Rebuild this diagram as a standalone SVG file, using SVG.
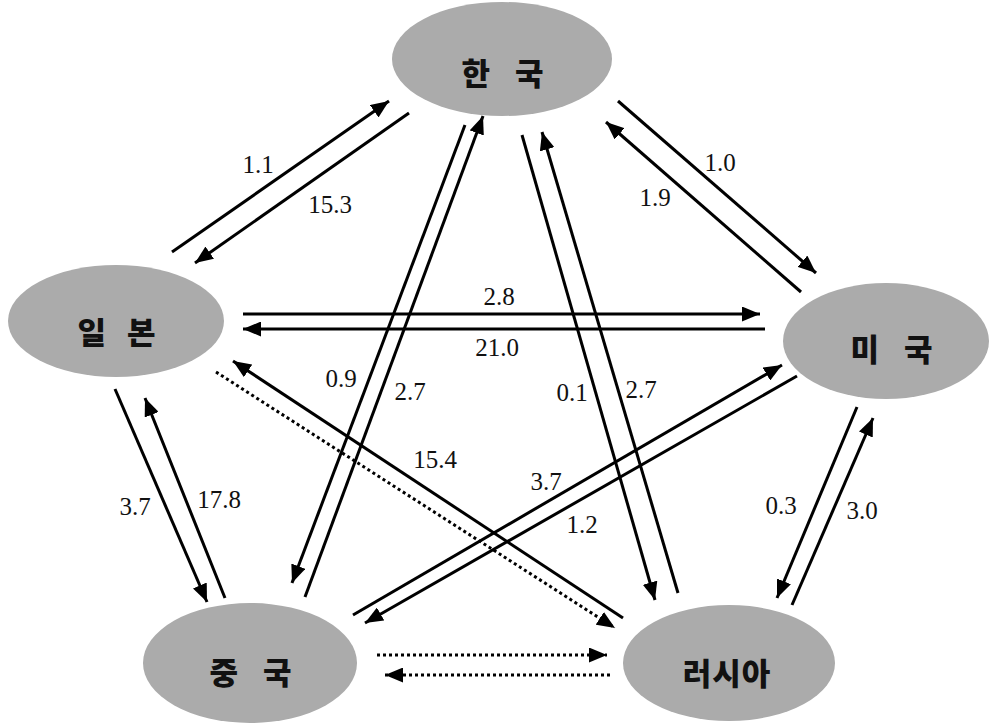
<svg xmlns="http://www.w3.org/2000/svg" width="989" height="724" viewBox="0 0 989 724">
<style>
.node{fill:#ababab;}
.nt{font-family:"Noto Sans CJK KR","Noto Sans",sans-serif;font-weight:900;font-size:31px;fill:#111;text-anchor:middle;}
.lbl{font-family:"Liberation Serif",serif;font-size:25px;fill:#111;text-anchor:middle;}
.c{stroke:#000;stroke-width:3;fill:none;}
.a{marker-end:url(#ah);}
.d{stroke-dasharray:3 3;}
</style>
<defs>
<marker id="ah" viewBox="0 0 18 15" refX="18" refY="7.5" markerWidth="18" markerHeight="15" markerUnits="userSpaceOnUse" orient="auto">
<path d="M0,0 L18,7.5 L0,15 z" fill="#000"/>
</marker>
</defs>
<rect width="989" height="724" fill="#fff"/>
<g id="korea"><ellipse class="node" cx="502" cy="59" rx="110" ry="57"/><text class="nt" x="507" y="85" style="letter-spacing:9px">한 국</text></g>
<g id="japan"><ellipse class="node" cx="116" cy="321" rx="108" ry="56"/><text class="nt" x="120" y="344" style="letter-spacing:7px">일 본</text></g>
<g id="usa"><ellipse class="node" cx="886" cy="341" rx="103" ry="58"/><text class="nt" x="896" y="361" style="letter-spacing:9px">미 국</text></g>
<g id="china"><ellipse class="node" cx="250" cy="663" rx="107" ry="60"/><text class="nt" x="255" y="684" style="letter-spacing:9px">중 국</text></g>
<g id="russia"><ellipse class="node" cx="729" cy="663" rx="106" ry="58"/><text class="nt" x="727" y="685" style="letter-spacing:1px">러시아</text></g>
<g id="connectors">
<line class="c a" x1="172" y1="252" x2="389" y2="101"/>
<line class="c a" x1="409" y1="113" x2="195" y2="263"/>
<line class="c a" x1="618" y1="101" x2="816" y2="273"/>
<line class="c a" x1="801" y1="292" x2="606" y2="122"/>
<line class="c a" x1="243" y1="314" x2="760" y2="314"/>
<line class="c a" x1="765" y1="329" x2="243" y2="329"/>
<line class="c a" x1="465" y1="125" x2="292" y2="583"/>
<line class="c a" x1="305" y1="597" x2="483" y2="116"/>
<line class="c a" x1="522" y1="135" x2="655" y2="600"/>
<line class="c a" x1="678" y1="593" x2="542" y2="132"/>
<line class="c a" x1="353" y1="615" x2="782" y2="365"/>
<line class="c a" x1="797" y1="376" x2="365" y2="623"/>
<line class="c a" x1="623" y1="618" x2="233" y2="361"/>
<line class="c a d" x1="216" y1="372" x2="615" y2="628"/>
<line class="c a" x1="115" y1="389" x2="207" y2="602"/>
<line class="c a" x1="225" y1="598" x2="145" y2="398"/>
<line class="c a" x1="857" y1="407" x2="777" y2="598"/>
<line class="c a" x1="792" y1="605" x2="873" y2="418"/>
<line class="c a d" x1="377" y1="655" x2="607" y2="655"/>
<line class="c a d" x1="610" y1="675" x2="385" y2="675"/>
</g>
<g id="labels">
<text class="lbl" x="258" y="173">1.1</text>
<text class="lbl" x="330" y="213">15.3</text>
<text class="lbl" x="720" y="171">1.0</text>
<text class="lbl" x="655" y="206">1.9</text>
<text class="lbl" x="499" y="305">2.8</text>
<text class="lbl" x="497" y="356">21.0</text>
<text class="lbl" x="341" y="387">0.9</text>
<text class="lbl" x="410" y="400">2.7</text>
<text class="lbl" x="572" y="401">0.1</text>
<text class="lbl" x="641" y="398">2.7</text>
<text class="lbl" x="435" y="468">15.4</text>
<text class="lbl" x="546" y="490">3.7</text>
<text class="lbl" x="582" y="533">1.2</text>
<text class="lbl" x="135" y="515">3.7</text>
<text class="lbl" x="219" y="508">17.8</text>
<text class="lbl" x="781" y="514">0.3</text>
<text class="lbl" x="862" y="519">3.0</text>
</g>
</svg>
